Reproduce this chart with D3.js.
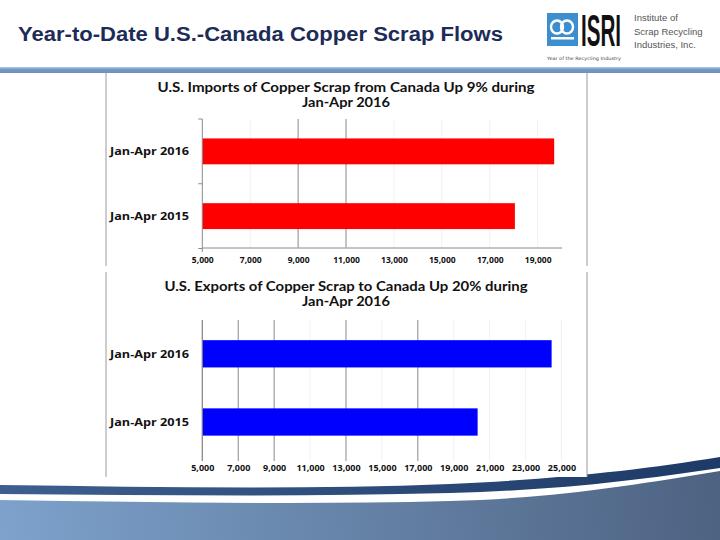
<!DOCTYPE html>
<html><head><meta charset="utf-8">
<script src="https://cdn.jsdelivr.net/npm/d3@7"></script>
<style>html,body{margin:0;padding:0;background:#fff;}svg{display:block;}</style>
</head><body>
<script>
// ---- data ----
const categories = ["Jan-Apr 2016", "Jan-Apr 2015"];
const importsValues = [19690, 18050];
const exportsValues = [24450, 20330];
const importsTicks = [5000, 7000, 9000, 11000, 13000, 15000, 17000, 19000];
const exportsTicks = [5000, 7000, 9000, 11000, 13000, 15000, 17000, 19000, 21000, 23000, 25000];
const importsStrongGrid = [9000, 11000];
const exportsStrongGrid = [5000, 7000, 9000, 13000, 17000];
const pageTitle = "Year-to-Date U.S.-Canada Copper Scrap Flows";
const importsTitle = ["U.S. Imports of Copper Scrap from Canada Up 9% during", "Jan-Apr 2016"];
const exportsTitle = ["U.S. Exports of Copper Scrap to Canada Up 20% during", "Jan-Apr 2016"];
const logoLines = ["Institute of", "Scrap Recycling", "Industries, Inc."];

const svg = d3.select("body").append("svg").attr("width", 720).attr("height", 540);
const defs = svg.append("defs");

// gradients
const gBar = defs.append("linearGradient").attr("id", "topbar").attr("x1", 0).attr("y1", 0).attr("x2", 0).attr("y2", 1);
gBar.append("stop").attr("offset", "0%").attr("stop-color", "#b7cbe2");
gBar.append("stop").attr("offset", "40%").attr("stop-color", "#7399c4");
gBar.append("stop").attr("offset", "100%").attr("stop-color", "#6a90bd");
const gNavy = defs.append("linearGradient").attr("id", "navy").attr("x1", 0).attr("y1", 0).attr("x2", 1).attr("y2", 0);
gNavy.append("stop").attr("offset", "0%").attr("stop-color", "#3d5f8f");
gNavy.append("stop").attr("offset", "100%").attr("stop-color", "#1e3a66");
const gLow = defs.append("linearGradient").attr("id", "low").attr("gradientUnits", "userSpaceOnUse")
  .attr("x1", 0).attr("y1", 540).attr("x2", 720).attr("y2", 460);
gLow.append("stop").attr("offset", "0%").attr("stop-color", "#7da2cc");
gLow.append("stop").attr("offset", "100%").attr("stop-color", "#4d6281");

// header
svg.append("text").attr("x", 18).attr("y", 41).text(pageTitle)
  .attr("font-family", "Arial, 'Liberation Sans', sans-serif").attr("font-weight", "bold")
  .attr("font-size", 19.5).attr("fill", "#1d2b58")
  .attr("textLength", 485).attr("lengthAdjust", "spacingAndGlyphs");
svg.append("rect").attr("x", 0).attr("y", 67).attr("width", 720).attr("height", 6).attr("fill", "url(#topbar)");

// logo
const logo = svg.append("g");
logo.append("rect").attr("x", 547).attr("y", 13).attr("width", 31).attr("height", 33).attr("fill", "#3b8fd0");
logo.append("ellipse").attr("cx", 557).attr("cy", 27).attr("rx", 6).attr("ry", 6.5).attr("fill", "none").attr("stroke", "#fff").attr("stroke-width", 2.4);
logo.append("ellipse").attr("cx", 567).attr("cy", 27).attr("rx", 6).attr("ry", 6.5).attr("fill", "none").attr("stroke", "#fff").attr("stroke-width", 2.4);
logo.append("rect").attr("x", 551).attr("y", 37).attr("width", 23).attr("height", 2.5).attr("fill", "#fff");
logo.append("g").attr("transform", "translate(581,45.5) scale(1,1.74)")
  .append("text").attr("x", 0).attr("y", 0).text("ISRI")
  .attr("font-family", "'Liberation Sans Narrow', 'Liberation Sans', Arial, sans-serif").attr("font-weight", "bold")
  .attr("font-size", 25).attr("fill", "#111").attr("textLength", 40).attr("lengthAdjust", "spacingAndGlyphs");
logo.append("text").attr("x", 547).attr("y", 60).text("Year of the Recycling Industry")
  .attr("font-family", "'DejaVu Sans', sans-serif").attr("font-size", 4.5).attr("fill", "#444")
  .attr("textLength", 74).attr("lengthAdjust", "spacingAndGlyphs");
logo.selectAll("text.l").data(logoLines).join("text").attr("class", "l")
  .attr("x", 634).attr("y", (d, i) => 21 + i * 13.5).text(d => d)
  .attr("font-family", "Arial, 'Liberation Sans', sans-serif").attr("font-size", 9.5).attr("fill", "#555");

// bottom swoosh
svg.append("path").attr("d", "M0,500 C150,502 300,505 450,501 C560,498 640,484 720,471 L720,540 L0,540 Z").attr("fill", "url(#low)");
svg.append("path").attr("d", "M0,485 C150,487 300,490 450,484 C560,479 640,470 720,457 L720,468 C640,480 560,490 450,493 C300,497 150,495 0,494 Z").attr("fill", "url(#navy)");

// chart images (white boards with side borders)
function board(y0, y1) {
  svg.append("rect").attr("x", 106).attr("y", y0).attr("width", 481).attr("height", y1 - y0).attr("fill", "#fff");
  [106, 587].forEach(x => svg.append("line").attr("x1", x).attr("x2", x).attr("y1", y0).attr("y2", y1)
    .attr("stroke", "#9a9a9a").attr("stroke-width", 1));
}
board(73, 266);
board(272, 477);

const fontC = "'Open Sans', 'Noto Sans', sans-serif";

function drawChart(opt) {
  const g = svg.append("g");
  const x = d3.scaleLinear().domain(opt.domain).range(opt.xr);
  const y = d3.scaleBand().domain(categories).range(opt.yr).paddingInner(0.6).paddingOuter(0.3);
  // titles
  g.selectAll("text.t").data(opt.title).join("text").attr("class", "t")
    .attr("x", 346).attr("y", (d, i) => opt.titleY + i * 15).attr("text-anchor", "middle")
    .attr("font-family", "Lato, 'Open Sans', sans-serif").attr("font-weight", "bold").attr("font-size", 12.4).attr("fill", "#111")
    .text(d => d)
    .each(function (d, i) { d3.select(this).attr("textLength", opt.titleW[i]).attr("lengthAdjust", "spacingAndGlyphs"); });
  // faint gridlines
  g.selectAll("line.fg").data(opt.ticks.filter(t => opt.strong.indexOf(t) < 0 && t !== opt.domain[0])).join("line")
    .attr("class", "fg").attr("x1", d => x(d)).attr("x2", d => x(d))
    .attr("y1", opt.gridTop).attr("y2", opt.gridBottom).attr("stroke", "#f1f1f1");
  // strong gridlines
  g.selectAll("line.sg").data(opt.strong).join("line")
    .attr("class", "sg").attr("x1", d => x(d)).attr("x2", d => x(d))
    .attr("y1", opt.gridTop).attr("y2", opt.gridBottom).attr("stroke", "#8a8a8a");
  // bars
  g.selectAll("rect.bar").data(opt.values).join("rect").attr("class", "bar")
    .attr("x", x(opt.domain[0])).attr("y", (d, i) => y(categories[i]))
    .attr("width", d => x(d) - x(opt.domain[0])).attr("height", y.bandwidth()).attr("fill", opt.color);
  // y axis
  const ya = g.append("g").attr("transform", `translate(${x(opt.domain[0])},0)`);
  ya.append("line").attr("y1", opt.gridTop).attr("y2", opt.axisBottom).attr("stroke", "#8a8a8a");
  if (opt.catTicks) {
    const bounds = [opt.yr[0], opt.yr[0] + y.step(), opt.yr[1]];
    ya.selectAll("line.ct").data(bounds).join("line").attr("class", "ct")
      .attr("x1", -4).attr("x2", 0).attr("y1", d => d).attr("y2", d => d).attr("stroke", "#8a8a8a");
  }
  // category labels
  g.selectAll("text.c").data(categories).join("text").attr("class", "c")
    .attr("x", 110).attr("y", d => y(d) + y.bandwidth() / 2 + 4)
    .attr("font-family", fontC).attr("font-weight", "bold").attr("font-size", 10.5).attr("fill", "#111")
    .attr("textLength", 79).attr("lengthAdjust", "spacingAndGlyphs").text(d => d);
  // x axis
  const xa = d3.axisBottom(x).tickValues(opt.ticks).tickSize(0).tickPadding(0).tickFormat(d3.format(","));
  const xg = g.append("g").attr("transform", `translate(0,${opt.axisY})`).call(xa);
  xg.select(".domain").attr("stroke", opt.showDomain ? "#8a8a8a" : "none");
  xg.selectAll("text").attr("y", opt.labelDy).attr("dy", 0).attr("font-family", fontC).attr("font-weight", "bold")
    .attr("font-size", opt.labelSize).attr("fill", "#111");
  return g;
}

drawChart({
  domain: [5000, 20000], xr: [202.3, 561.6], yr: [119, 248.5],
  values: importsValues, color: "#ff0000", ticks: importsTicks, strong: importsStrongGrid,
  title: importsTitle, titleY: 92, titleW: [377, 88],
  gridTop: 119, gridBottom: 247.5, axisBottom: 252, axisY: 247.5, showDomain: true,
  labelDy: 15, labelSize: 8.5, catTicks: true
});
drawChart({
  domain: [5000, 25000], xr: [202.3, 561.5], yr: [319.7, 456.1],
  values: exportsValues, color: "#0000ff", ticks: exportsTicks, strong: exportsStrongGrid,
  title: exportsTitle, titleY: 291, titleW: [363, 88],
  gridTop: 320, gridBottom: 461, axisBottom: 461, axisY: 461, showDomain: false,
  labelDy: 9.5, labelSize: 9, catTicks: false
});
</script>
</body></html>
